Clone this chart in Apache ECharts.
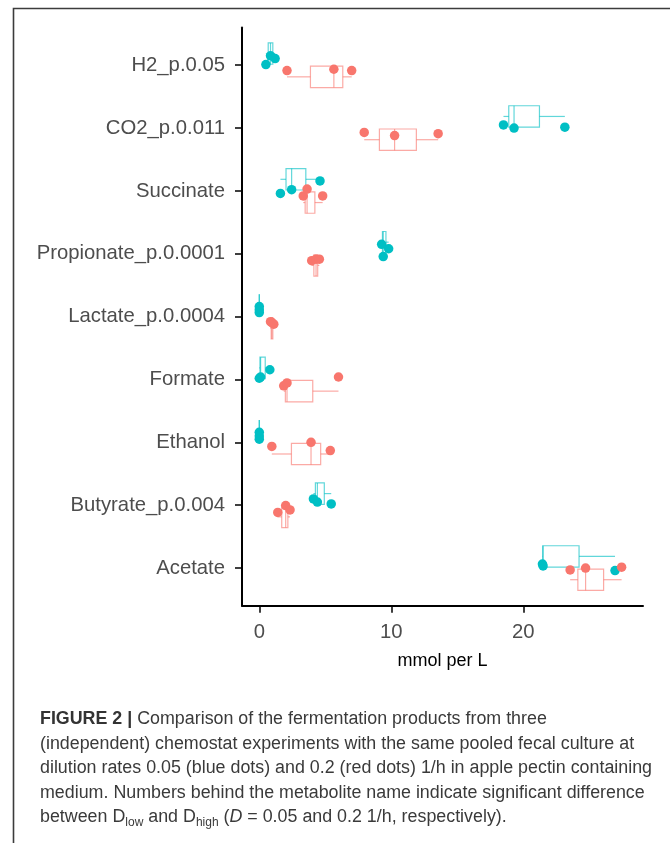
<!DOCTYPE html>
<html>
<head>
<meta charset="utf-8">
<script src="https://cdn.jsdelivr.net/npm/echarts@6/dist/echarts.min.js"></script>
<style>
  html, body { margin: 0; padding: 0; background: #ffffff; }
  #chart { width: 670px; height: 843px; }
</style>
</head>
<body>
<div id="chart"></div>
<script>
// Fermentation products (mmol per L), three chemostat runs per dilution rate
const categories = [
  'H2_p.0.05', 'CO2_p.0.011', 'Succinate', 'Propionate_p.0.0001',
  'Lactate_p.0.0004', 'Formate', 'Ethanol', 'Butyrate_p.0.004', 'Acetate'
];

// D = 0.05 1/h (blue dots)
const dLow = [
  [0.5, 0.85, 1.2],
  [18.5, 19.3, 23.15],
  [1.6, 2.45, 4.6],
  [9.27, 9.8, 9.39],
  [0, 0, 0],
  [0, 0.1, 0.8],
  [0, 0, 0],
  [4.1, 4.4, 5.45],
  [21.45, 21.5, 26.95]
];

// D = 0.2 1/h (red dots)
const dHigh = [
  [2.1, 5.65, 7.0],
  [7.95, 10.25, 13.55],
  [3.33, 3.62, 4.8],
  [3.97, 4.3, 4.55],
  [0.85, 1.1, 0.95],
  [1.85, 2.1, 6.0],
  [0.95, 3.92, 5.38],
  [1.4, 2.0, 2.33],
  [23.55, 24.72, 27.45]
];

const xTicks = [0, 10, 20];
const xAxisTitle = 'mmol per L';

const captionLines = [
  '{b|FIGURE 2 |} Comparison of the fermentation products from three',
  '(independent) chemostat experiments with the same pooled fecal culture at',
  'dilution rates 0.05 (blue dots) and 0.2 (red dots) 1/h in apple pectin containing',
  'medium. Numbers behind the metabolite name indicate significant difference',
  'between D{sub|low} and D{sub|high} ({i|D} = 0.05 and 0.2 1/h, respectively).'
];

// vertical jitter of each dot around its category line (category units)
const jitterLow = [
  [-0.01, -0.15, -0.105],
  [-0.05, 0.0, -0.015],
  [0.04, -0.02, -0.16],
  [-0.15, -0.08, 0.045],
  [-0.16, -0.065, -0.11],
  [-0.02, -0.04, -0.155],
  [-0.16, -0.05, -0.1],
  [-0.1, -0.05, -0.02],
  [-0.065, -0.035, 0.04]
];
const jitterHigh = [
  [0.086, 0.064, 0.086],
  [0.07, 0.12, 0.09],
  [0.08, -0.03, 0.08],
  [0.11, 0.085, 0.085],
  [0.08, 0.12, 0.095],
  [0.1, 0.055, -0.04],
  [0.065, 0.0, 0.13],
  [0.115, 0.005, 0.075],
  [0.03, 0.0, -0.015]
];

const BLUE = '#00BFC4';
const RED = '#F8766D';
const BOX_LINE_BLUE = 'rgba(0,191,196,0.62)';
const BOX_LINE_RED = 'rgba(248,118,109,0.62)';
const BOX_H = 0.34;          // box thickness in category units
const SHIFT_LOW = -0.185;    // dodge of the D=0.05 box
const SHIFT_HIGH = 0.185;    // dodge of the D=0.2 box
const FONT = "'Liberation Sans', Arial, sans-serif";

// quantile, type 7 (linear interpolation)
function quantile(sorted, p) {
  const h = (sorted.length - 1) * p;
  const lo = Math.floor(h);
  const hi = Math.min(lo + 1, sorted.length - 1);
  return sorted[lo] + (h - lo) * (sorted[hi] - sorted[lo]);
}
function boxStats(vals) {
  const s = vals.slice().sort((a, b) => a - b);
  const q1 = quantile(s, 0.25), med = quantile(s, 0.5), q3 = quantile(s, 0.75);
  const iqr = q3 - q1;
  const lo = Math.min(...s.filter(v => v >= q1 - 1.5 * iqr));
  const hi = Math.max(...s.filter(v => v <= q3 + 1.5 * iqr));
  return [lo, q1, med, q3, hi];
}

const boxLow = dLow.map((v, i) => [i + SHIFT_LOW].concat(boxStats(v)));
const boxHigh = dHigh.map((v, i) => [i + SHIFT_HIGH].concat(boxStats(v)));

const ptsLow = [];
dLow.forEach((vals, i) => vals.forEach((x, j) => ptsLow.push([x, i + jitterLow[i][j]])));
const ptsHigh = [];
dHigh.forEach((vals, i) => vals.forEach((x, j) => ptsHigh.push([x, i + jitterHigh[i][j]])));

function boxRenderer(color) {
  return function (params, api) {
    const y = api.value(0);
    const pMin = api.coord([api.value(1), y]);
    const pQ1 = api.coord([api.value(2), y]);
    const pMed = api.coord([api.value(3), y]);
    const pQ3 = api.coord([api.value(4), y]);
    const pMax = api.coord([api.value(5), y]);
    const h = Math.abs(api.size([0, BOX_H])[1]);
    const cy = pMin[1];
    const top = cy - h / 2;
    const style = { stroke: color, fill: null, lineWidth: 1.2 };
    return {
      type: 'group',
      children: [
        { type: 'rect', shape: { x: pQ1[0], y: top, width: pQ3[0] - pQ1[0], height: h }, style: style },
        { type: 'line', shape: { x1: pMed[0], y1: top, x2: pMed[0], y2: top + h }, style: style },
        { type: 'line', shape: { x1: pMin[0], y1: cy, x2: pQ1[0], y2: cy }, style: style },
        { type: 'line', shape: { x1: pQ3[0], y1: cy, x2: pMax[0], y2: cy }, style: style }
      ]
    };
  };
}

const catTicks = categories.map((c, i) => i);
const CAPTION_X = 40;
const CAPTION_Y0 = 719.5;
const CAPTION_STEP = 24.5;
const CAPTION_SIZE = 17.85;

const captionGraphics = captionLines.map((line, k) => ({
  type: 'text',
  left: CAPTION_X,
  top: CAPTION_Y0 + k * CAPTION_STEP - 11,
  style: {
    text: line,
    fontSize: CAPTION_SIZE,
    fontFamily: FONT,
    lineHeight: 22,
    fill: '#3a3a3a',
    rich: {
      b: { fontSize: CAPTION_SIZE, fontFamily: FONT, fontWeight: 'bold', lineHeight: 22, fill: '#333333' },
      sub: { fontSize: 12, fontFamily: FONT, lineHeight: 12, verticalAlign: 'bottom', fill: '#3a3a3a' },
      i: { fontSize: CAPTION_SIZE, fontFamily: FONT, fontStyle: 'italic', lineHeight: 22, fill: '#3a3a3a' }
    }
  }
}));

const chart = echarts.init(document.getElementById('chart'), null, { renderer: 'canvas' });

chart.setOption({
  animation: false,
  backgroundColor: '#ffffff',
  grid: { left: 242, right: 27, top: 27.5, bottom: 237.2, containLabel: false },
  xAxis: {
    type: 'value',
    min: -1.31,
    max: 29.07,
    name: xAxisTitle,
    nameLocation: 'middle',
    nameGap: 46,
    nameTextStyle: { fontSize: 18, color: '#000000', fontFamily: FONT },
    axisLine: { show: true, onZero: false, lineStyle: { color: '#000000', width: 2 } },
    axisTick: { show: true, customValues: xTicks, length: 7, lineStyle: { color: '#000000', width: 1.5 } },
    axisLabel: { customValues: xTicks, fontSize: 20.3, color: '#4d4d4d', margin: 16.5, fontFamily: FONT },
    splitLine: { show: false }
  },
  yAxis: {
    type: 'value',
    inverse: true,
    min: -0.6,
    max: 8.6,
    axisLine: { show: true, onZero: false, lineStyle: { color: '#000000', width: 2 } },
    axisTick: { show: true, customValues: catTicks, length: 7, lineStyle: { color: '#000000', width: 1.5 } },
    axisLabel: {
      customValues: catTicks,
      formatter: v => categories[Math.round(v)],
      fontSize: 20.3,
      color: '#4d4d4d',
      margin: 17,
      padding: [6, 0, 0, 0],
      fontFamily: FONT
    },
    splitLine: { show: false }
  },
  series: [
    {
      type: 'custom',
      name: 'box low',
      renderItem: boxRenderer(BOX_LINE_BLUE),
      data: boxLow,
      encode: { x: [1, 2, 3, 4, 5], y: 0 },
      clip: false,
      silent: true,
      z: 2
    },
    {
      type: 'custom',
      name: 'box high',
      renderItem: boxRenderer(BOX_LINE_RED),
      data: boxHigh,
      encode: { x: [1, 2, 3, 4, 5], y: 0 },
      clip: false,
      silent: true,
      z: 2
    },
    {
      type: 'scatter',
      name: 'D 0.05',
      data: ptsLow,
      symbol: 'circle',
      symbolSize: 9.5,
      itemStyle: { color: BLUE, opacity: 1 },
      z: 3
    },
    {
      type: 'scatter',
      name: 'D 0.2',
      data: ptsHigh,
      symbol: 'circle',
      symbolSize: 9.5,
      itemStyle: { color: RED, opacity: 1 },
      z: 3
    }
  ],
  graphic: [
    {
      type: 'polyline',
      shape: { points: [[13.5, 843], [13.5, 8.5], [670, 8.5]] },
      style: { stroke: '#3c3c3c', lineWidth: 1.6, fill: null }
    }
  ].concat(captionGraphics)
});
</script>
</body>
</html>
